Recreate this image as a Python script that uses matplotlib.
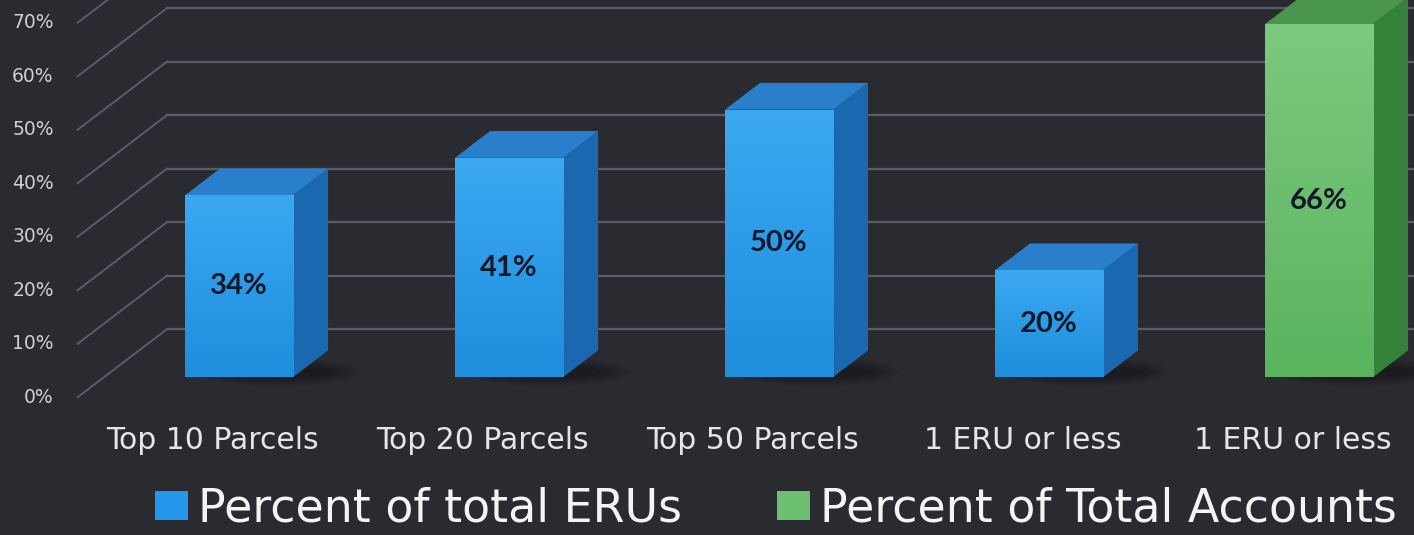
import numpy as np
import matplotlib.pyplot as plt
from matplotlib.patches import Polygon, Rectangle, Ellipse, Patch
from matplotlib.colors import LinearSegmentedColormap

# data
categories = ['Top 10 Parcels', 'Top 20 Parcels', 'Top 50 Parcels', '1 ERU or less', '1 ERU or less']
values = [34, 41, 50, 20, 66]
bar_series = [0, 0, 0, 0, 1]
series_names = ['Percent of total ERUs', 'Percent of Total Accounts']
tick_values = [0, 10, 20, 30, 40, 50, 60, 70]

BG = '#2a2a31'
GRID = '#5c5c64'
styles = [
    dict(front_top='#3ba8f1', front_bottom='#1e8edd', side='#1a69b0', top='#2a7fcd'),
    dict(front_top='#7cc97f', front_bottom='#5bb35e', side='#35823a', top='#4b964f'),
]
legend_colors = ['#2398ea', '#6cc070']

# fake 3d: oblique depth vector (one bar deep) in data units
bar_w = 0.4
DX, DY = 0.13, 5.0
wall_depth = 1.8
label_depth = -0.75
wall_x = -0.5

fig = plt.figure(figsize=(14.14, 5.35), dpi=100)
fig.patch.set_facecolor(BG)
ax = fig.add_axes([0, 0, 1, 1])
ax.set_facecolor(BG)
ax.axis('off')

# walls: diagonal lines on the left side, horizontal lines on the back
for v in tick_values:
    x0, y0 = wall_x + label_depth * DX, v + label_depth * DY
    x1, y1 = wall_x + wall_depth * DX, v + wall_depth * DY
    ax.plot([x0, x1], [y0, y1], color=GRID, lw=1.4, zorder=1)
    ax.plot([x1, 4.5], [y1, y1], color=GRID, lw=1.6, zorder=1)
    ax.annotate(f'{v}%', xy=(x0, y0), xytext=(-24, 0), textcoords='offset pixels',
                ha='right', va='center', fontsize=13.5, color='#cfcfd3',
                family='DejaVu Sans', zorder=2)

# bars
for i, (cat, v, s) in enumerate(zip(categories, values, bar_series)):
    st = styles[s]
    left, right = i - bar_w / 2, i + bar_w / 2

    # soft shadow under the bar, pushed to the right
    for k in range(4):
        ax.add_patch(Ellipse((i + 0.14, 1.0), 0.42 + 0.06 * k, 2.5 + 0.9 * k,
                             facecolor='black', edgecolor='none', alpha=0.09, zorder=3))

    side = Polygon([(right, 0), (right, v), (right + DX, v + DY), (right + DX, DY)],
                   closed=True, facecolor=st['side'], edgecolor='none', zorder=4)
    top = Polygon([(left, v), (right, v), (right + DX, v + DY), (left + DX, v + DY)],
                  closed=True, facecolor=st['top'], edgecolor='none', zorder=4)
    ax.add_patch(side)
    ax.add_patch(top)

    front = Rectangle((left, 0), bar_w, v, facecolor='none', edgecolor='none', zorder=5)
    ax.add_patch(front)
    cmap = LinearSegmentedColormap.from_list('f', [st['front_bottom'], st['front_top']])
    grad = np.linspace(0, 1, 100).reshape(-1, 1)
    im = ax.imshow(grad, cmap=cmap, origin='lower', aspect='auto',
                   extent=(left, right, 0, v), zorder=5)
    im.set_clip_path(front)

    ax.text(i, v / 2, f'{v}%', ha='center', va='center', fontsize=21,
            color='#121a2a', family='Lato', fontweight='bold', zorder=6)

    ax.annotate(cat, xy=(i + label_depth * DX, label_depth * DY), xytext=(0, -43),
                textcoords='offset pixels', ha='center', va='center',
                fontsize=21.5, color='#e6e6e8', family='DejaVu Sans')

ax.set_xlim(-0.885, 4.352)
ax.set_ylim(-29.5, 70.5)

handles = [Patch(facecolor=legend_colors[k], edgecolor='none', label=series_names[k])
           for k in range(2)]
fig.legend(handles=handles, loc='lower center', bbox_to_anchor=(0.549, -0.045), ncol=2,
           frameon=False, fontsize=33, labelcolor='#f4f4f4', handlelength=0.72,
           handleheight=0.59, handletextpad=0.22, columnspacing=2.07, borderpad=0.1)

fig.savefig('out.png', dpi=100, facecolor=BG)
